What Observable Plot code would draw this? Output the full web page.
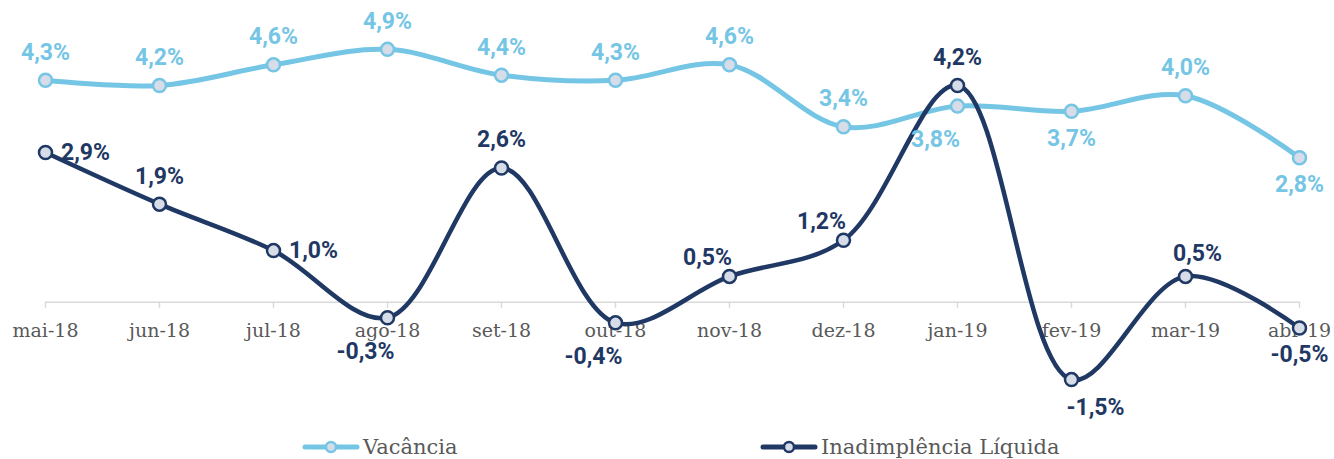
<!DOCTYPE html>
<html>
<head>
<meta charset="utf-8">
<script src="https://cdn.jsdelivr.net/npm/d3@7"></script>
<script src="https://cdn.jsdelivr.net/npm/@observablehq/plot@0.6"></script>
<style>
  html, body { margin: 0; padding: 0; background: #fff; }
  #chart svg { display: block; }
  .legend { position: relative; height: 34px; font-family: "DejaVu Serif", serif; font-size: 21px; color: #595959; }
  .legend .item { position: absolute; top: 0; display: flex; align-items: center; height: 28px; }
</style>
</head>
<body>
<div id="chart"></div>
<div class="legend" id="legend"></div>
<script>
const months = ["mai-18","jun-18","jul-18","ago-18","set-18","out-18","nov-18","dez-18","jan-19","fev-19","mar-19","abr-19"];
const vacancia = [4.3, 4.2, 4.6, 4.9, 4.4, 4.3, 4.6, 3.4, 3.8, 3.7, 4.0, 2.8];
const inadimplencia = [2.9, 1.9, 1.0, -0.3, 2.6, -0.4, 0.5, 1.2, 4.2, -1.5, 0.5, -0.5];
const seriesNames = ["Vacância", "Inadimplência Líquida"];
// label placement relative to the point
const vacPlacement = ["top","top","top","top","top","top","top","top","bottom-left","bottom","top","bottom"];
const inaPlacement = ["right","top","right","bottom-left","top","bottom-left","top-left","top-left","top","bottom-right","top-right","bottom"];

const colVac = "#75C5E5";
const colIna = "#1F3864";
const markerFill = "#D6DCE8";

const offsets = {
  "top": [0, -28], "bottom": [0, 27], "right": [40, 0], "bottom-left": [-22, 34],
  "top-left": [-22, -19], "bottom-right": [24, 28], "top-right": [12, -23]
};

const vacData = months.map((m, i) => ({month: m, value: vacancia[i], place: vacPlacement[i]}));
const inaData = months.map((m, i) => ({month: m, value: inadimplencia[i], place: inaPlacement[i]}));
const fmt = v => v.toFixed(1).replace(".", ",") + "%";

function labels(data, color) {
  return Object.keys(offsets).map(p => Plot.text(data.filter(d => d.place === p), {
    x: "month", y: "value", text: d => fmt(d.value),
    dx: offsets[p][0], dy: offsets[p][1],
    fill: color, fontSize: 23, fontWeight: "bold",
    fontFamily: "Roboto, sans-serif"
  }));
}

const chart = Plot.plot({
  width: 1334,
  height: 425,
  marginLeft: 0, marginRight: 0, marginTop: 0, marginBottom: 0,
  x: {type: "point", domain: months, range: [44, 1299], padding: 0, axis: null},
  y: {domain: [-2, 5.5], range: [404.9, 17.9], axis: null},
  marks: [
    Plot.link([0], {x1: () => months[0], x2: () => months[months.length - 1], y1: 0, y2: 0, stroke: "#D9D9D9", strokeWidth: 1.5}),
    Plot.ruleX(months, {x: d => d, y1: 0, y2: -0.12, stroke: "#D9D9D9", strokeWidth: 1.5}),
    Plot.text(months, {x: d => d, y: 0, dy: 29, text: d => d, fill: "#595959", fontSize: 19, fontFamily: "DejaVu Serif, serif"}),
    Plot.line(vacData, {x: "month", y: "value", stroke: colVac, strokeWidth: 5, curve: "catmull-rom"}),
    Plot.dot(vacData, {x: "month", y: "value", r: 6.5, fill: markerFill, stroke: colVac, strokeWidth: 2.5}),
    Plot.line(inaData, {x: "month", y: "value", stroke: colIna, strokeWidth: 4.5, curve: "catmull-rom"}),
    Plot.dot(inaData, {x: "month", y: "value", r: 6.5, fill: markerFill, stroke: colIna, strokeWidth: 2.5}),
    ...labels(vacData, colVac),
    ...labels(inaData, colIna)
  ]
});
document.getElementById("chart").appendChild(chart);

// legend
const legend = document.getElementById("legend");
const legendItems = [
  {name: seriesNames[0], color: colVac, left: 301},
  {name: seriesNames[1], color: colIna, left: 759}
];
legendItems.forEach(it => {
  const div = document.createElement("div");
  div.className = "item";
  div.style.left = it.left + "px";
  div.style.top = "8px";
  div.innerHTML = `<svg width="60" height="16" style="margin-right:2px"><line x1="4" y1="8" x2="56" y2="8" stroke="${it.color}" stroke-width="5" stroke-linecap="round"/><circle cx="30" cy="8" r="5" fill="${markerFill}" stroke="${it.color}" stroke-width="2.5"/></svg><span>${it.name}</span>`;
  legend.appendChild(div);
});
</script>
</body>
</html>
